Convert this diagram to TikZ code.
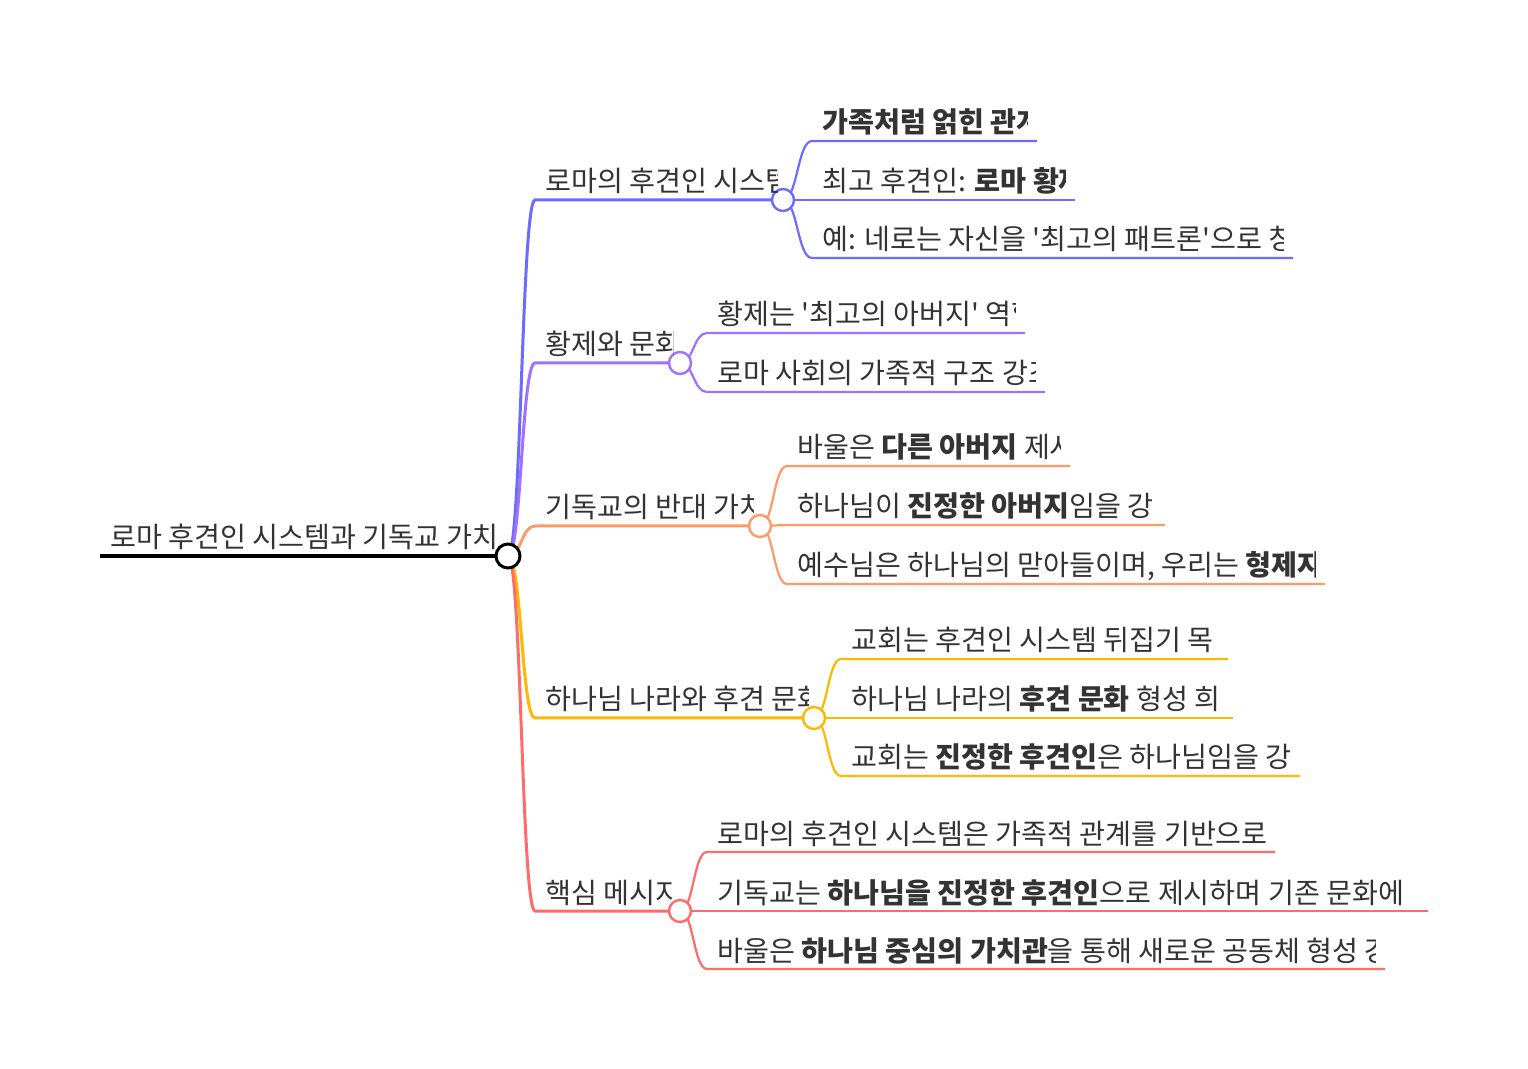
\documentclass[tikz,border=0pt]{standalone}
\usepackage{fontspec}
\newfontfamily\krfont{Noto Sans CJK KR}
\usepackage{xcolor}
\definecolor{textgray}{HTML}{333333}
\definecolor{mmblue}{HTML}{6B6BFF}
\definecolor{mmpurple}{HTML}{A070FF}
\definecolor{mmorange}{HTML}{FF9A66}
\definecolor{mmyellow}{HTML}{FFB700}
\definecolor{mmred}{HTML}{FF6B6B}

\begin{document}
\begin{tikzpicture}[x=0.5pt,y=0.5pt,yscale=-1,xscale=1,
	txt/.style={anchor=base west,inner sep=0pt,text=textgray,font=\krfont\fontsize{14.1}{16}\selectfont},
	dot/.style={circle,draw,fill=white,line width=1.2pt,minimum size=11pt,inner sep=0pt},
	link/.style={line width=1.5pt},
	leaf/.style={line width=1.1pt}]
		\useasboundingbox (0,0) rectangle (1528,1069);
		
		%Coordinates: root and first level
		\coordinate (root) at (100,556);
		\coordinate (rootend) at (508,556);
		\coordinate (rs) at (535,200);
		\coordinate (ec) at (535,363);
		\coordinate (cv) at (535,526);
		\coordinate (kg) at (535,718);
		\coordinate (km) at (535,911);
		%Coordinates: second level (start, end)
		\coordinate (rs1) at (812,141); \coordinate (rs1e) at (1037,141);
		\coordinate (rs2) at (812,200); \coordinate (rs2e) at (1075,200);
		\coordinate (rs3) at (812,258); \coordinate (rs3e) at (1293,258);
		\coordinate (ec1) at (707,333); \coordinate (ec1e) at (1025,333);
		\coordinate (ec2) at (707,392); \coordinate (ec2e) at (1045,392);
		\coordinate (cv1) at (787,466); \coordinate (cv1e) at (1070,466);
		\coordinate (cv2) at (787,525); \coordinate (cv2e) at (1165,525);
		\coordinate (cv3) at (787,584); \coordinate (cv3e) at (1325,584);
		\coordinate (kg1) at (841,659); \coordinate (kg1e) at (1228,659);
		\coordinate (kg2) at (841,718); \coordinate (kg2e) at (1233,718);
		\coordinate (kg3) at (841,776); \coordinate (kg3e) at (1300,776);
		\coordinate (km1) at (707,852); \coordinate (km1e) at (1275,852);
		\coordinate (km2) at (707,911); \coordinate (km2e) at (1428,911);
		\coordinate (km3) at (707,969); \coordinate (km3e) at (1385,969);
		
		%Straight Lines: root
		\draw [line width=2.2pt] (root) -- (rootend) ;
		
		%Curves: root to first level
		\draw [link, mmblue] (rootend) .. controls (521.5,556) and (521.5,200) .. (rs) -- (783,200) ;
		\draw [link, mmpurple] (rootend) .. controls (521.5,556) and (521.5,363) .. (ec) -- (680,363) ;
		\draw [link, mmorange] (rootend) .. controls (521.5,556) and (521.5,526) .. (cv) -- (760,526) ;
		\draw [link, mmyellow] (rootend) .. controls (521.5,556) and (521.5,718) .. (kg) -- (814,718) ;
		\draw [link, mmred] (rootend) .. controls (521.5,556) and (521.5,911) .. (km) -- (680,911) ;
		
		%Curves: first level to second level
		\draw [leaf, mmblue] (783,200) .. controls (797.5,200) and (797.5,141) .. (rs1) -- (rs1e) ;
		\draw [leaf, mmblue] (783,200) -- (rs2) -- (rs2e) ;
		\draw [leaf, mmblue] (783,200) .. controls (797.5,200) and (797.5,258) .. (rs3) -- (rs3e) ;
		\draw [leaf, mmpurple] (680,363) .. controls (693.5,363) and (693.5,333) .. (ec1) -- (ec1e) ;
		\draw [leaf, mmpurple] (680,363) .. controls (693.5,363) and (693.5,392) .. (ec2) -- (ec2e) ;
		\draw [leaf, mmorange] (760,526) .. controls (773.5,526) and (773.5,466) .. (cv1) -- (cv1e) ;
		\draw [leaf, mmorange] (760,526) -- (cv2) -- (cv2e) ;
		\draw [leaf, mmorange] (760,526) .. controls (773.5,526) and (773.5,584) .. (cv3) -- (cv3e) ;
		\draw [leaf, mmyellow] (814,718) .. controls (827.5,718) and (827.5,659) .. (kg1) -- (kg1e) ;
		\draw [leaf, mmyellow] (814,718) -- (kg2) -- (kg2e) ;
		\draw [leaf, mmyellow] (814,718) .. controls (827.5,718) and (827.5,776) .. (kg3) -- (kg3e) ;
		\draw [leaf, mmred] (680,911) .. controls (693.5,911) and (693.5,852) .. (km1) -- (km1e) ;
		\draw [leaf, mmred] (680,911) -- (km2) -- (km2e) ;
		\draw [leaf, mmred] (680,911) .. controls (693.5,911) and (693.5,969) .. (km3) -- (km3e) ;
		
		%Shape: Circles
		\node [dot, line width=1.5pt, minimum size=12pt] (rootdot) at (rootend) {};
		\node [dot, draw=mmblue] (rsdot) at (783,200) {};
		\node [dot, draw=mmpurple] (ecdot) at (680,363) {};
		\node [dot, draw=mmorange] (cvdot) at (760,526) {};
		\node [dot, draw=mmyellow] (kgdot) at (814,718) {};
		\node [dot, draw=mmred] (kmdot) at (680,911) {};
		
		% Text Node: root
		\begin{scope} \clip (100,500) rectangle (499,552);
		\draw (110,548) node [txt] (roottxt) {로마 후견인 시스템과 기독교 가치};
		\end{scope}
		% Text Node: first level
		\begin{scope} \clip (540,150) rectangle (777,198);
		\draw (545,192) node [txt] (rstxt) {로마의 후견인 시스템};
		\end{scope}
		\begin{scope} \clip (540,310) rectangle (673,361);
		\draw (545,355) node [txt] (ectxt) {황제와 문화};
		\end{scope}
		\begin{scope} \clip (540,470) rectangle (753,524);
		\draw (545,518) node [txt] (cvtxt) {기독교의 반대 가치};
		\end{scope}
		\begin{scope} \clip (540,660) rectangle (808,716);
		\draw (545,710) node [txt] (kgtxt) {하나님 나라와 후견 문화};
		\end{scope}
		\begin{scope} \clip (540,850) rectangle (673,909);
		\draw (545,903) node [txt] (kmtxt) {핵심 메시지};
		\end{scope}
		
		% Text Node: second level
		\begin{scope} \clip (815,90) rectangle (1027,139);
		\draw (822,133) node [txt] (rs1txt) {\textbf{가족처럼 얽힌 관계}};
		\end{scope}
		\begin{scope} \clip (815,150) rectangle (1065,198);
		\draw (822,192) node [txt] (rs2txt) {최고 후견인: \textbf{로마 황제}};
		\end{scope}
		\begin{scope} \clip (815,210) rectangle (1283,256);
		\draw (822,250) node [txt] (rs3txt) {예: 네로는 자신을 '최고의 패트론'으로 칭함};
		\end{scope}
		\begin{scope} \clip (710,285) rectangle (1015,331);
		\draw (717,325) node [txt] (ec1txt) {황제는 '최고의 아버지' 역할};
		\end{scope}
		\begin{scope} \clip (710,345) rectangle (1035,390);
		\draw (717,384) node [txt] (ec2txt) {로마 사회의 가족적 구조 강조};
		\end{scope}
		\begin{scope} \clip (790,420) rectangle (1060,464);
		\draw (797,458) node [txt] (cv1txt) {바울은 \textbf{다른 아버지} 제시};
		\end{scope}
		\begin{scope} \clip (790,480) rectangle (1155,523);
		\draw (797,517) node [txt] (cv2txt) {하나님이 \textbf{진정한 아버지}임을 강};
		\end{scope}
		\begin{scope} \clip (790,540) rectangle (1315,582);
		\draw (797,576) node [txt] (cv3txt) {예수님은 하나님의 맏아들이며, 우리는 \textbf{형제자매}};
		\end{scope}
		\begin{scope} \clip (844,610) rectangle (1218,657);
		\draw (851,651) node [txt] (kg1txt) {교회는 후견인 시스템 뒤집기 목};
		\end{scope}
		\begin{scope} \clip (844,670) rectangle (1223,716);
		\draw (851,710) node [txt] (kg2txt) {하나님 나라의 \textbf{후견 문화} 형성 희};
		\end{scope}
		\begin{scope} \clip (844,730) rectangle (1290,774);
		\draw (851,768) node [txt] (kg3txt) {교회는 \textbf{진정한 후견인}은 하나님임을 강조};
		\end{scope}
		\begin{scope} \clip (710,805) rectangle (1265,850);
		\draw (717,844) node [txt] (km1txt) {로마의 후견인 시스템은 가족적 관계를 기반으로};
		\end{scope}
		\begin{scope} \clip (710,865) rectangle (1418,909);
		\draw (717,903) node [txt] (km2txt) {기독교는 \textbf{하나님을 진정한 후견인}으로 제시하며 기존 문화에};
		\end{scope}
		\begin{scope} \clip (710,920) rectangle (1375,967);
		\draw (717,961) node [txt] (km3txt) {바울은 \textbf{하나님 중심의 가치관}을 통해 새로운 공동체 형성 강조};
		\end{scope}
		
	\end{tikzpicture}
\end{document}
